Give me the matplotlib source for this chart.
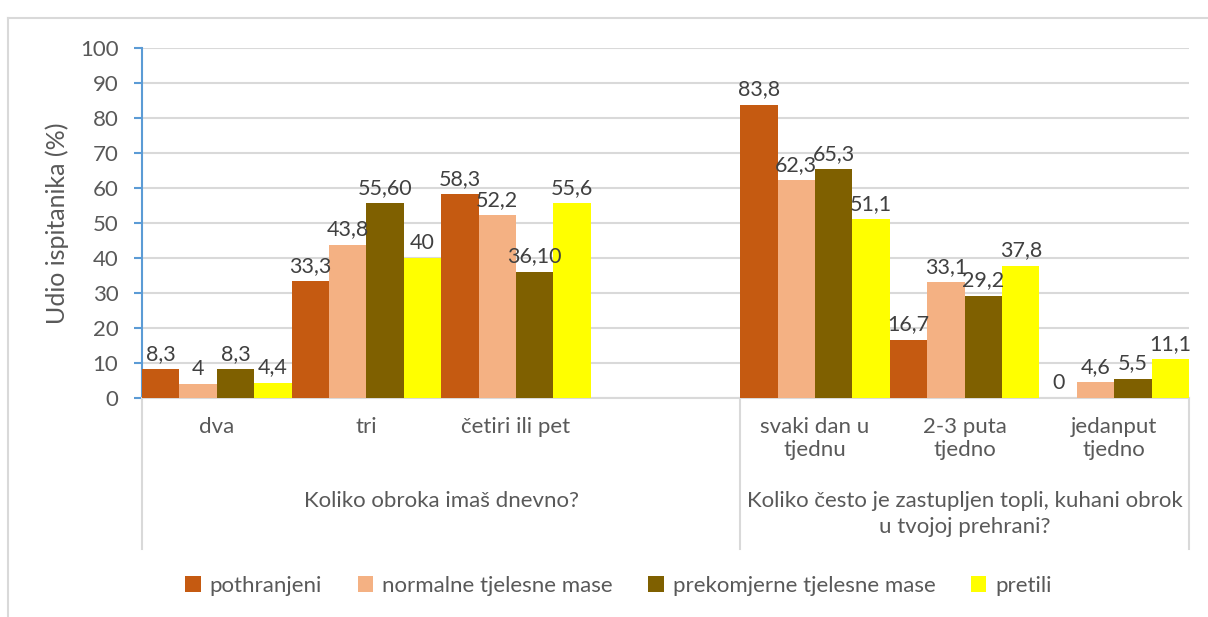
import numpy as np
import matplotlib
matplotlib.use("Agg")
import matplotlib.pyplot as plt
from matplotlib.patches import Patch
from matplotlib.lines import Line2D
import matplotlib.transforms as mtransforms

plt.rcParams['font.family'] = ['Lato', 'DejaVu Sans']

# data
categories = ['dva', 'tri', 'četiri ili pet', '', 'svaki dan u\ntjednu', '2-3 puta\ntjedno', 'jedanput\ntjedno']
groups = ['Koliko obroka imaš dnevno?', 'Koliko često je zastupljen topli, kuhani obrok\nu tvojoj prehrani?']
series = ['pothranjeni', 'normalne tjelesne mase', 'prekomjerne tjelesne mase', 'pretili']
pothranjeni = [8.3, 33.3, 58.3, None, 83.8, 16.7, 0]
normalne = [4, 43.8, 52.2, None, 62.3, 33.1, 4.6]
prekomjerne = [8.3, 55.6, 36.1, None, 65.3, 29.2, 5.5]
pretili = [4.4, 40, 55.6, None, 51.1, 37.8, 11.1]
lab_poth = ['8,3', '33,3', '58,3', '', '83,8', '16,7', '0']
lab_norm = ['4', '43,8', '52,2', '', '62,3', '33,1', '4,6']
lab_prek = ['8,3', '55,60', '36,10', '', '65,3', '29,2', '5,5']
lab_pret = ['4,4', '40', '55,6', '', '51,1', '37,8', '11,1']

colors = ['#C55A11', '#F4B183', '#7F6000', '#FFFF00']
txt = '#595959'

fig = plt.figure(figsize=(12.08, 6.17), dpi=100)
ax = fig.add_axes([0.1175, 0.3549, 0.8668, 0.5673])

x = np.arange(len(categories))
w = 0.25
all_vals = [pothranjeni, normalne, prekomjerne, pretili]
all_labs = [lab_poth, lab_norm, lab_prek, lab_pret]
for i in range(4):
    xs = [xi for xi, v in zip(x, all_vals[i]) if v is not None]
    vs = [v for v in all_vals[i] if v is not None]
    ax.bar(np.array(xs) + (i - 1.5) * w, vs, width=w, color=colors[i], zorder=3)
    for xi, v, lab in zip(x, all_vals[i], all_labs[i]):
        if v is None:
            continue
        ax.text(xi + (i - 1.5) * w, v + 1.5, lab, ha='center', va='bottom',
                fontsize=15.5, color='#404040', zorder=4)

ax.set_xlim(-0.5, 6.5)
ax.set_ylim(0, 100)
ax.set_yticks(np.arange(0, 101, 10))
ax.tick_params(axis='y', colors='#5B9BD5', length=6, width=1.5, labelsize=16, labelcolor=txt, pad=11)
ax.set_xticks([])
ax.yaxis.grid(True, color='#D9D9D9', linewidth=1.5, zorder=0)
for s in ['top', 'right']:
    ax.spines[s].set_visible(False)
ax.spines['left'].set_color('#5B9BD5')
ax.spines['left'].set_linewidth(1.5)
ax.spines['bottom'].set_color('#D9D9D9')
ax.spines['bottom'].set_linewidth(1.5)
ax.set_ylabel('Udio ispitanika (%)', fontsize=18, color=txt, labelpad=8)

trans = mtransforms.blended_transform_factory(ax.transData, ax.transAxes)
for sx in [-0.5, 3.5, 6.5]:
    ax.plot([sx, sx], [0, -0.431], transform=trans, color='#D9D9D9', lw=1.5, clip_on=False)
for xi, c in zip(x, categories):
    ax.text(xi, -0.055, c, transform=trans, ha='center', va='top', fontsize=16,
            color=txt, linespacing=1.15)
ax.text(1.5, -0.265, groups[0], transform=trans, ha='center', va='top', fontsize=16, color=txt)
ax.text(5, -0.265, groups[1], transform=trans, ha='center', va='top', fontsize=16,
        color=txt, linespacing=1.4)

handles = [Patch(facecolor=c, edgecolor='none') for c in colors]
fig.legend(handles, series, loc='center', bbox_to_anchor=(0.512, 1 - 586 / 617), ncol=4,
           frameon=False, fontsize=16, handlelength=0.7, handleheight=0.7,
           handletextpad=0.4, columnspacing=1.6, labelcolor=txt)

fig.add_artist(Line2D([8 / 1208, 8 / 1208], [0, 1 - 18 / 617], color='#D9D9D9', lw=1.5))
fig.add_artist(Line2D([8 / 1208, 1], [1 - 18 / 617, 1 - 18 / 617], color='#D9D9D9', lw=1.5))

fig.savefig('out.png', dpi=100)
